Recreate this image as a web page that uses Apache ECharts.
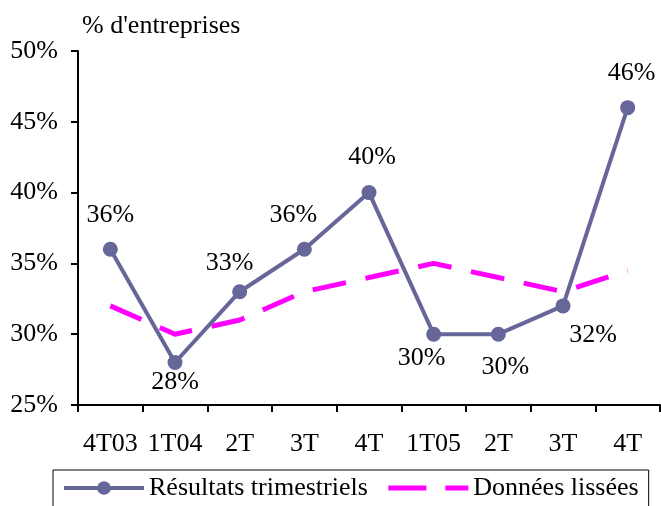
<!DOCTYPE html>
<html>
<head>
<meta charset="utf-8">
<script src="https://cdn.jsdelivr.net/npm/echarts@6/dist/echarts.min.js"></script>
<style>
  html, body { margin: 0; padding: 0; background: #fff; }
  #chart { width: 661px; height: 506px; }
</style>
</head>
<body>
<div id="chart"></div>
<script>
// Quarterly share of companies, raw results and smoothed trend
const categories = ['4T03', '1T04', '2T', '3T', '4T', '1T05', '2T', '3T', '4T'];
const resultats = [36, 28, 33, 36, 40, 30, 30, 32, 46];
const lissees = [32, 30, 31, 33, 34, 35, 34, 33, 34.5];
const yTicks = { min: 25, max: 50, step: 5 };

// label offset from each quarterly point's centre, in pixels
const labelOffsets = [
  [0, -34], [0, 20], [-10, -29], [-11, -34], [3, -35],
  [-12, 24], [7, 33], [30, 29], [4, -34]
];

const serif = '"Liberation Serif", "Times New Roman", serif';
const FS = 26;
const chart = echarts.init(document.getElementById('chart'));

chart.setOption({
  animation: false,
  backgroundColor: '#ffffff',
  textStyle: { fontFamily: serif, color: '#000' },
  title: {
    text: "% d'entreprises",
    left: 77, top: 8,
    textStyle: { fontFamily: serif, fontSize: FS, fontWeight: 'normal', color: '#000' }
  },
  grid: { left: 78, right: 1, top: 51, bottom: 101 },
  xAxis: {
    type: 'category',
    data: categories,
    boundaryGap: true,
    axisLine: { lineStyle: { color: '#000', width: 2 } },
    axisTick: { show: true, length: 7, alignWithLabel: false, lineStyle: { color: '#000', width: 2 } },
    axisLabel: { color: '#000', fontFamily: serif, fontSize: FS, margin: 26, interval: 0 }
  },
  yAxis: {
    type: 'value',
    min: yTicks.min, max: yTicks.max, interval: yTicks.step,
    splitLine: { show: false },
    axisLine: { show: true, lineStyle: { color: '#000', width: 2 } },
    axisTick: { show: true, length: 7, lineStyle: { color: '#000', width: 2 } },
    axisLabel: { color: '#000', fontFamily: serif, fontSize: FS, margin: 20, formatter: '{value}%' }
  },
  legend: {
    left: 53, top: 470,
    padding: [5, 10, 10, 9],
    borderColor: '#000', borderWidth: 1,
    itemWidth: 80, itemHeight: 17, itemGap: 18,
    textStyle: { fontFamily: serif, fontSize: FS, color: '#000' },
    data: [
      { name: 'Résultats trimestriels', lineStyle: { width: 4 } },
      { name: 'Données lissées', itemStyle: { opacity: 0 }, lineStyle: { width: 5, type: [38, 19] } }
    ]
  },
  series: [
    {
      name: 'Données lissées',
      type: 'line',
      data: lissees,
      symbol: 'none',
      lineStyle: { color: '#ff00ff', width: 5, type: [34, 20] },
      itemStyle: { color: '#ff00ff' },
      z: 1
    },
    {
      name: 'Résultats trimestriels',
      type: 'line',
      data: resultats.map((v, i) => ({
        value: v,
        label: { offset: labelOffsets[i] }
      })),
      symbol: 'circle',
      symbolSize: 15,
      lineStyle: { color: '#666699', width: 4 },
      itemStyle: { color: '#666699' },
      label: {
        show: true,
        position: 'inside',
        fontFamily: serif, fontSize: FS, color: '#000',
        formatter: p => p.value + '%'
      },
      z: 2
    }
  ]
});
</script>
</body>
</html>
